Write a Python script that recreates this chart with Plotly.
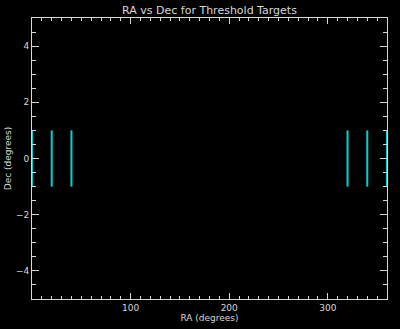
import plotly.graph_objects as go

# Data
ra = [0, 20, 40, 320, 340, 360]
dec_low = [-1, -1, -1, -1, -1, -1]
dec_high = [1, 1, 1, 1, 1, 1]

title = "RA vs Dec for Threshold Targets"
x_title = "RA (degrees)"
y_title = "Dec (degrees)"

xs, ys = [], []
for r, lo, hi in zip(ra, dec_low, dec_high):
    xs += [r, r, None]
    ys += [lo, hi, None]

fig = go.Figure()
fig.add_trace(go.Scatter(x=xs, y=ys, mode="lines",
                         line=dict(color="#00D2D2", width=2),
                         hoverinfo="skip", showlegend=False, cliponaxis=False))

fg = "#D8D8D8"
font = dict(family="DejaVu Sans", size=9, color=fg)

fig.update_layout(
    width=400, height=329,
    paper_bgcolor="black", plot_bgcolor="black",
    margin=dict(l=32, r=13, t=18, b=30, autoexpand=False),
    title=dict(text=title, x=0.5237, xanchor="center", y=0.982, yanchor="top",
               font=dict(family="DejaVu Sans", size=11, color=fg)),
    font=font,
    showlegend=False,
)

fig.update_xaxes(
    range=[0, 360], showgrid=False, zeroline=False, automargin=False,
    showline=True, linecolor=fg, linewidth=1, mirror="allticks",
    ticks="inside", ticklen=6, tickcolor=fg, tickwidth=1,
    tickmode="array", tickvals=[100, 200, 300], ticktext=["100", "200", "300"],
    minor=dict(ticks="inside", ticklen=3, tickcolor=fg, dtick=10, tick0=0, showgrid=False),
    title=dict(text=x_title, font=font, standoff=2),
    tickfont=font,
)
fig.update_yaxes(
    range=[-5, 5], showgrid=False, zeroline=False, automargin=False,
    showline=True, linecolor=fg, linewidth=1, mirror="allticks",
    ticks="inside", ticklen=7, tickcolor=fg, tickwidth=1,
    tickmode="array", tickvals=[-4, -2, 0, 2, 4], ticktext=["−4", "−2", "0", "2", "4"],
    minor=dict(ticks="inside", ticklen=4, tickcolor=fg, dtick=0.5, tick0=0, showgrid=False),
    title=dict(text=y_title, font=font, standoff=2),
    tickfont=font,
)

fig.write_html("out.html")
